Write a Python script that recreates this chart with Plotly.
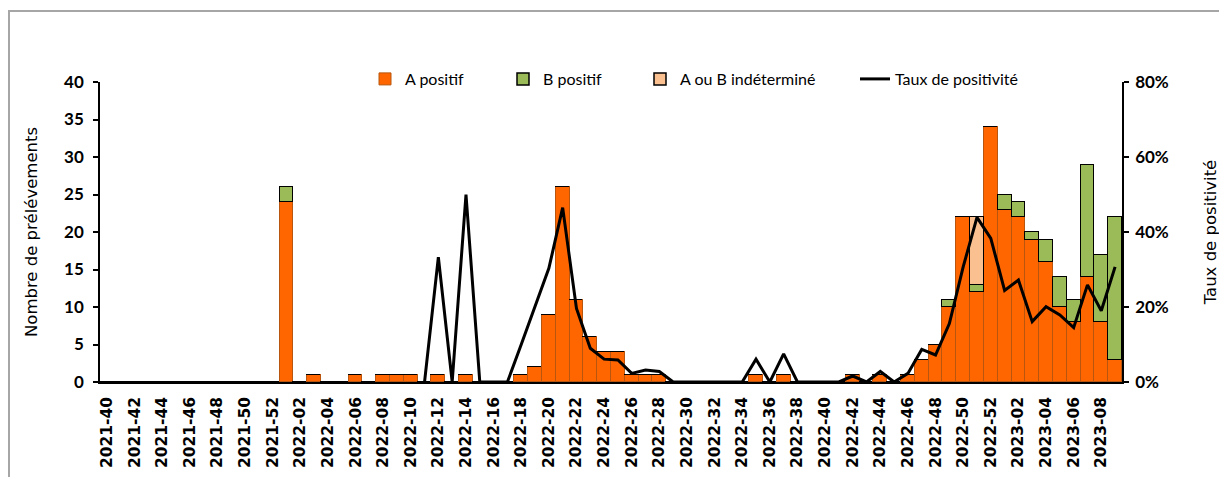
import plotly.graph_objects as go

weeks = [
    "2021-40", "2021-41", "2021-42", "2021-43", "2021-44", "2021-45", "2021-46", "2021-47",
    "2021-48", "2021-49", "2021-50", "2021-51", "2021-52",
    "2022-01", "2022-02", "2022-03", "2022-04", "2022-05", "2022-06", "2022-07", "2022-08",
    "2022-09", "2022-10", "2022-11", "2022-12", "2022-13", "2022-14", "2022-15", "2022-16",
    "2022-17", "2022-18", "2022-19", "2022-20", "2022-21", "2022-22", "2022-23", "2022-24",
    "2022-25", "2022-26", "2022-27", "2022-28", "2022-29", "2022-30", "2022-31", "2022-32",
    "2022-33", "2022-34", "2022-35", "2022-36", "2022-37", "2022-38", "2022-39", "2022-40",
    "2022-41", "2022-42", "2022-43", "2022-44", "2022-45", "2022-46", "2022-47", "2022-48",
    "2022-49", "2022-50", "2022-51", "2022-52",
    "2023-01", "2023-02", "2023-03", "2023-04", "2023-05", "2023-06", "2023-07", "2023-08",
    "2023-09",
]

# Nombre de prélèvements A positif
a_positif = [
    0, 0, 0, 0, 0, 0, 0, 0, 0, 0, 0, 0, 0,
    24, 0, 1, 0, 0, 1, 0, 1, 1, 1, 0, 1, 0, 1, 0, 0, 0, 1, 2, 9, 26, 11, 6, 4, 4, 1, 1, 1,
    0, 0, 0, 0, 0, 0, 1, 0, 1, 0, 0, 0, 0, 1, 0, 1, 0, 1, 3, 5, 10, 22, 12, 34,
    23, 22, 19, 16, 10, 8, 14, 8, 3,
]
# B positif
b_positif = [
    0, 0, 0, 0, 0, 0, 0, 0, 0, 0, 0, 0, 0,
    2, 0, 0, 0, 0, 0, 0, 0, 0, 0, 0, 0, 0, 0, 0, 0, 0, 0, 0, 0, 0, 0, 0, 0, 0, 0, 0, 0,
    0, 0, 0, 0, 0, 0, 0, 0, 0, 0, 0, 0, 0, 0, 0, 0, 0, 0, 0, 0, 1, 0, 1, 0,
    2, 2, 1, 3, 4, 3, 15, 9, 19,
]
# A ou B indéterminé
indetermine = [
    0, 0, 0, 0, 0, 0, 0, 0, 0, 0, 0, 0, 0,
    0, 0, 0, 0, 0, 0, 0, 0, 0, 0, 0, 0, 0, 0, 0, 0, 0, 0, 0, 0, 0, 0, 0, 0, 0, 0, 0, 0,
    0, 0, 0, 0, 0, 0, 0, 0, 0, 0, 0, 0, 0, 0, 0, 0, 0, 0, 0, 0, 0, 0, 9, 0,
    0, 0, 0, 0, 0, 0, 0, 0, 0,
]
# Taux de positivité (%)
taux = [
    None, None, None, None, None, None, None, None, None, None, None, None, None,
    None, None, None, None, None, None, None, None, None, None,
    0, 33.3, 0, 50, 0, 0, 0, 10, 20, 30.3, 46.5, 19.6, 9.0, 6.1, 5.9, 2.3, 3.2, 2.8,
    0, 0, 0, 0, 0, 0, 6.1, 0, 7.5, 0, 0, 0, 0, 1.6, 0, 2.8, 0, 2.3, 8.7, 7.2, 15.6, 30.7, 43.9, 38.3,
    24.4, 27.2, 16.1, 20.1, 17.9, 14.5, 25.9, 19.0, 30.7,
]

tick_labels = weeks[::2]

# The page body has an 8px margin, so the figure is shifted by OFF pixels
OFF = 8
W, H = 1227, 477
ML, MT = 100 - OFF, 82 - OFF
PW, PH = 1022, 300
MR, MB = W - ML - PW, H - MT - PH


def px_x(x):
    return (x - OFF - ML) / PW


def px_y(y):
    return 1 - (y - OFF - MT) / PH


legend_font = dict(family="Lato, Liberation Sans", size=16, color="black")
ytick_font = dict(family="Lato, Liberation Sans", size=17, color="black", weight="bold")

fig = go.Figure()
fig.add_trace(go.Bar(
    x=weeks, y=a_positif, name="A positif", showlegend=True,
    marker=dict(color="#FF6600", line=dict(color="#B8560F", width=1)),
    legend="legend",
))
fig.add_trace(go.Bar(
    x=weeks, y=b_positif, name="B positif", showlegend=True,
    marker=dict(color="#9BBB59", line=dict(color="black", width=1.5)),
    legend="legend2",
))
fig.add_trace(go.Bar(
    x=weeks, y=indetermine, name="A ou B indéterminé", showlegend=True,
    marker=dict(color="#FAC090", line=dict(color="black", width=1.5)),
    legend="legend3",
))
fig.add_trace(go.Scatter(
    x=weeks, y=taux, name="Taux de positivité", yaxis="y2", showlegend=True,
    mode="lines", line=dict(color="black", width=3), connectgaps=False,
    legend="legend4",
))

leg_common = dict(orientation="h", yanchor="middle", xanchor="left",
                  bgcolor="rgba(0,0,0,0)", font=legend_font)
fig.update_layout(
    width=W, height=H, autosize=False, showlegend=True,
    margin=dict(l=ML, r=MR, t=MT, b=MB, pad=0, autoexpand=False),
    paper_bgcolor="white", plot_bgcolor="white",
    barmode="stack", bargap=0,
    legend=dict(x=px_x(405 - 40), y=px_y(79), **leg_common),
    legend2=dict(x=px_x(543 - 40), y=px_y(79), **leg_common),
    legend3=dict(x=px_x(680 - 40), y=px_y(79), **leg_common),
    legend4=dict(x=px_x(895 - 40), y=px_y(79), **leg_common),
    xaxis=dict(
        type="category", tickmode="array", tickvals=tick_labels, ticktext=tick_labels,
        tickangle=-90, tickfont=dict(family="DejaVu Sans", size=15.5, color="black", weight="bold"),
        ticklabelstandoff=7,
        showline=True, linecolor="black", linewidth=1.5, ticks="",
        showgrid=False, zeroline=False, automargin=False,
    ),
    yaxis=dict(
        range=[0, 40], dtick=5, showgrid=False, zeroline=False, automargin=False,
        showline=True, linecolor="black", linewidth=1.5,
        ticks="outside", ticklen=5, tickcolor="black", tickwidth=1.5,
        tickfont=ytick_font, ticklabelstandoff=6,
        title=dict(text="Nombre de prélévements", standoff=22,
                   font=dict(family="DejaVu Sans", size=16.5, color="black")),
    ),
    yaxis2=dict(
        range=[0, 80], dtick=20, ticksuffix="%", overlaying="y", side="right",
        showgrid=False, zeroline=False, automargin=False,
        showline=True, linecolor="black", linewidth=1.5,
        ticks="outside", ticklen=5, tickcolor="black", tickwidth=1.5,
        tickfont=ytick_font, ticklabelstandoff=3,
        title=dict(text="Taux de positivité", standoff=37,
                   font=dict(family="DejaVu Sans", size=16.5, color="black")),
    ),
    shapes=[dict(
        type="rect", xref="paper", yref="paper",
        x0=px_x(9), x1=px_x(1400), y0=px_y(600), y1=px_y(11),
        line=dict(color="#A6A6A6", width=2), fillcolor="rgba(0,0,0,0)", layer="below",
    )],
)

fig.write_html("out.html")
